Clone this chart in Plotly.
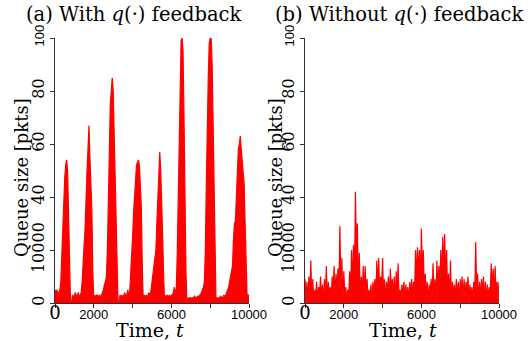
import plotly.graph_objects as go

# ---------------- data ----------------
time_step = 50
left_queue = [
    5, 4, 5, 3, 4, 5,
    8, 18, 30, 42, 47, 52, 54, 50, 30, 10,
    0, 0,
    3, 2, 3, 4, 2, 3, 4, 2, 3, 4,
    8, 18, 22, 28, 42, 50, 58, 67, 55, 45, 35, 12,
    0,
    3, 2, 3, 3, 2, 3, 2, 3, 4, 5,
    7, 8, 10, 20, 38, 60, 75, 80, 85, 80, 63, 52, 30, 8,
    0, 0,
    3, 2, 3, 2, 3, 4, 2, 3, 5, 3, 4,
    10, 18, 25, 34, 42, 49, 52, 53, 54, 52, 45, 36, 14,
    0,
    3, 2, 3, 2, 3, 4, 2, 5,
    8, 13, 16, 19, 20, 30, 38, 45, 57, 50, 40, 25, 10,
    0,
    3, 2, 3, 2, 3, 2, 3, 3, 4, 6, 4, 5,
    18, 40, 60, 85, 99, 100, 95, 70, 35, 12,
    0,
    2, 1.5, 2, 2, 1.5, 2, 2, 2.5, 2, 2, 2.5, 2, 3, 3, 4, 5, 6, 8,
    20, 45, 70, 85, 98, 100, 100, 90, 68, 40, 15,
    0,
    2, 1.5, 2, 2, 2.5, 2, 2, 3, 2.5, 3, 4, 5, 6, 8,
    10, 12, 14, 24, 30, 31, 40, 50, 58, 60, 63, 58, 53, 50, 45, 30, 12,
    3, 3, 3,
]
right_queue = [
    9, 2, 8, 0, 10, 3, 16, 1, 9, 0,
    5, 2, 8, 0, 6, 3, 10, 1, 7, 0,
    9, 2, 14, 0, 8, 3, 6, 1, 10, 4,
    14, 2, 11, 5, 13, 6, 29, 4, 17, 0,
    12, 3, 6, 0, 5, 2, 12, 4, 20, 6,
    22, 9, 42, 20, 30, 5, 19, 0, 10, 3,
    14, 2, 14, 4, 9, 1, 5, 2, 7, 0,
    8, 3, 9, 1, 16, 5, 17, 3, 10, 6,
    17, 2, 9, 0, 8, 3, 10, 1, 13, 4,
    9, 2, 10, 0, 12, 3, 15, 1, 5, 2,
    7, 3, 8, 1, 7, 2, 6, 0, 8, 3,
    9, 2, 8, 5, 20, 9, 21, 12, 20, 8,
    28, 10, 20, 4, 11, 2, 8, 0, 7, 3,
    9, 1, 15, 3, 9, 0, 16, 4, 14, 6,
    20, 8, 25, 12, 26, 9, 20, 3, 11, 2,
    16, 0, 8, 3, 7, 1, 9, 2, 8, 0,
    9, 3, 10, 1, 9, 2, 8, 4, 10, 0,
    7, 2, 6, 1, 8, 3, 23, 4, 11, 0,
    8, 2, 9, 3, 10, 1, 8, 0, 7, 2,
    6, 4, 15, 5, 13, 2, 14, 3, 8, 1,
    8,
]
left_time = [i * time_step for i in range(len(left_queue))]
right_time = [i * time_step for i in range(len(right_queue))]

panel_titles = ["(a) With <i>q</i>(·) feedback", "(b) Without <i>q</i>(·) feedback"]
x_title = "Time, <i>t</i>"
y_title = "Queue size [pkts]"
x_tickvals = [0, 2000, 4000, 6000, 8000, 10000]
SERIF = "DejaVu Serif"
SANS = "Liberation Sans"
x_ticktext = [f"<span style='font-family:{SERIF};font-size:18px'>0</span>",
              "2000", "", "6000", "", "10000"]
y_tickvals = [0, 20, 40, 60, 80, 100]
y_ticktext = ["0", "10000", "40", "60", "80",
              f"<span style='font-family:{SANS};font-size:13px'>100</span>"]

# ---------------- figure ----------------
W, H = 531, 341
fig = go.Figure()
red = "#ff0000"
fig.add_trace(go.Scatter(x=left_time, y=left_queue, mode="lines",
                         line=dict(color=red, width=1.2), fill="tozeroy",
                         fillcolor=red, xaxis="x", yaxis="y", showlegend=False,
                         hoverinfo="skip"))
fig.add_trace(go.Scatter(x=right_time, y=right_queue, mode="lines",
                         line=dict(color=red, width=1.2), fill="tozeroy",
                         fillcolor=red, xaxis="x2", yaxis="y2", showlegend=False,
                         hoverinfo="skip"))
# empty traces so the tick-label-only axes get drawn
fig.add_trace(go.Scatter(x=[], y=[], xaxis="x3", yaxis="y", showlegend=False))
fig.add_trace(go.Scatter(x=[], y=[], xaxis="x4", yaxis="y2", showlegend=False))

def px_x(p):
    return p / W

def px_y(p):
    return 1 - p / H

x0a, x1a = 55, 249
x0b, x1b = 305, 499
ytop, ybot = 38, 303
xlabel_line = 304.5   # where the tick-label-only axes sit

axis_x = dict(range=[0, 10000], showline=True, linecolor="#333", linewidth=1,
              ticks="outside", ticklen=4, tickcolor="#333", showgrid=False,
              zeroline=False, tickvals=x_tickvals, showticklabels=False,
              fixedrange=True)
label_x = dict(range=[0, 10000], showline=False, ticks="", showgrid=False,
               zeroline=False, tickvals=x_tickvals, ticktext=x_ticktext,
               tickfont=dict(family=SANS, size=13, color="black"), fixedrange=True,
               anchor="free", position=px_y(xlabel_line), side="bottom")
common_y = dict(range=[0, 100], showline=True, linecolor="#333", linewidth=1,
                ticks="outside", ticklen=4, tickcolor="#333", showgrid=False,
                zeroline=False, tickvals=y_tickvals, ticktext=y_ticktext,
                tickangle=-90, tickfont=dict(family=SERIF, size=16, color="black"),
                fixedrange=True)

fig.update_layout(
    width=W, height=H, margin=dict(l=0, r=0, t=0, b=0, pad=0, autoexpand=False),
    paper_bgcolor="white", plot_bgcolor="white",
    xaxis=dict(domain=[px_x(x0a), px_x(x1a)], anchor="y", **axis_x),
    yaxis=dict(domain=[px_y(ybot), px_y(ytop)], anchor="x", **common_y),
    xaxis2=dict(domain=[px_x(x0b), px_x(x1b)], anchor="y2", **axis_x),
    yaxis2=dict(domain=[px_y(ybot), px_y(ytop)], anchor="x2", **common_y),
    xaxis3=dict(domain=[px_x(x0a), px_x(x1a)], overlaying="x", **label_x),
    xaxis4=dict(domain=[px_x(x0b), px_x(x1b)], overlaying="x2", **label_x),
)

annots = []
for i, (cx, ylab_x) in enumerate([(133, 21), (399, 275)]):
    annots.append(dict(text=panel_titles[i], x=px_x(cx), y=px_y(15), xref="paper",
                       yref="paper", showarrow=False, xanchor="center", yanchor="middle",
                       font=dict(family=SERIF, size=19.5, color="black")))
    annots.append(dict(text=x_title, x=px_x([150, 403][i]), y=px_y(330), xref="paper",
                       yref="paper", showarrow=False, xanchor="center", yanchor="middle",
                       font=dict(family=SERIF, size=19, color="black")))
    annots.append(dict(text=y_title, x=px_x(ylab_x), y=px_y(178), xref="paper",
                       yref="paper", showarrow=False, xanchor="center", yanchor="middle",
                       textangle=-90, font=dict(family=SERIF, size=18, color="black")))
fig.update_layout(annotations=annots)

fig.write_html("out.html", post_script="document.body.style.margin='0';",
               config={"displayModeBar": False})
